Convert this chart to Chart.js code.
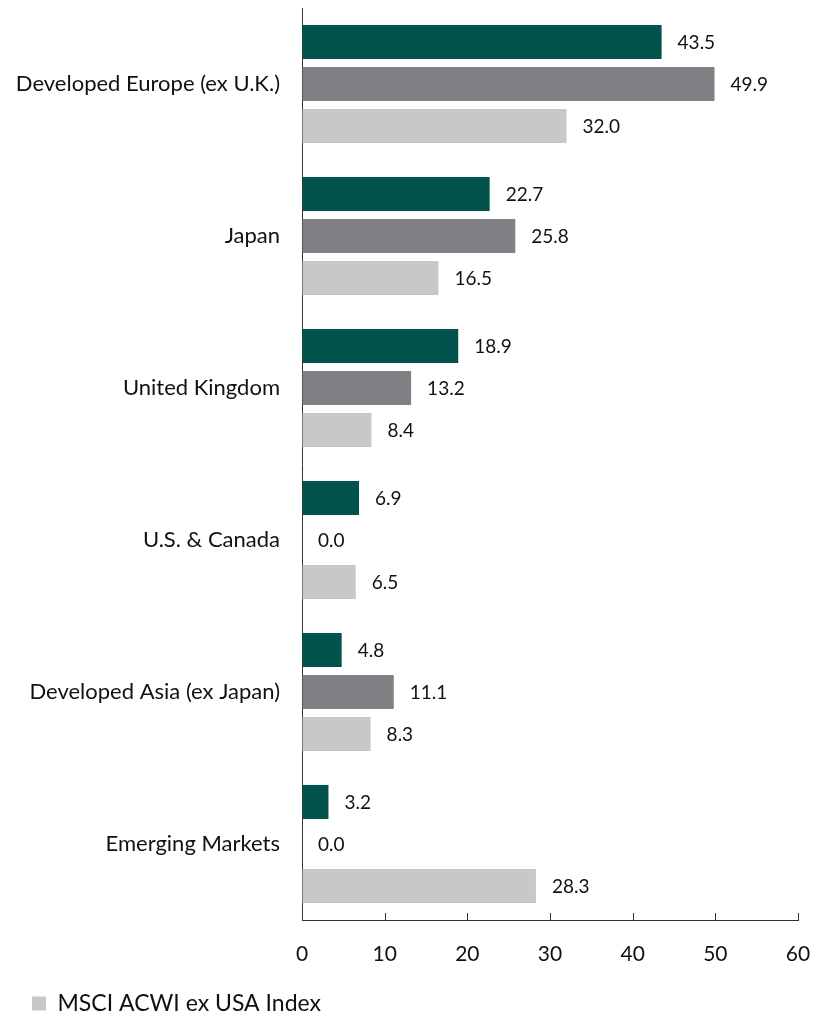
<!DOCTYPE html>
<html>
<head>
<meta charset="utf-8">
<script src="https://cdn.jsdelivr.net/npm/chart.js@4.4.0/dist/chart.umd.min.js"></script>
<style>
html,body{margin:0;padding:0;background:#fff;}
#wrap{width:824px;height:1020px;position:relative;}
</style>
</head>
<body>
<div id="wrap"><canvas id="c" width="824" height="1020"></canvas></div>
<script>
const categories = ["Developed Europe (ex U.K.)", "Japan", "United Kingdom", "U.S. & Canada", "Developed Asia (ex Japan)", "Emerging Markets"];
const seriesNames = ["Portfolio", "Model Portfolio", "MSCI ACWI ex USA Index"];
const seriesA = [43.5, 22.7, 18.9, 6.9, 4.8, 3.2];
const seriesB = [49.9, 25.8, 13.2, 0.0, 11.1, 0.0];
const seriesC = [32.0, 16.5, 8.4, 6.5, 8.3, 28.3];
const xTicks = [0, 10, 20, 30, 40, 50, 60];
const colors = ["#03534D", "#807F83", "#C9C8C9"];

const FONT = "Lato, 'Liberation Sans', sans-serif";

const valueLabels = {
  id: 'valueLabels',
  afterDatasetsDraw(chart) {
    const ctx = chart.ctx;
    ctx.save();
    ctx.font = "19px " + FONT;
    ctx.fillStyle = "#111";
    ctx.textAlign = "left";
    ctx.textBaseline = "middle";
    chart.data.datasets.forEach((ds, i) => {
      const meta = chart.getDatasetMeta(i);
      meta.data.forEach((bar, j) => {
        ctx.fillText(ds.data[j].toFixed(1), bar.x + 16, bar.y + 1);
      });
    });
    ctx.restore();
  }
};

const upTicks = {
  id: 'upTicks',
  afterDraw(chart) {
    const xs = chart.scales.x;
    const ctx = chart.ctx;
    const y = chart.chartArea.bottom;
    ctx.save();
    ctx.strokeStyle = "#333";
    ctx.lineWidth = 1;
    xs.ticks.forEach(t => {
      const x = Math.round(xs.getPixelForValue(t.value)) + 0.5;
      ctx.beginPath();
      ctx.moveTo(x, y);
      ctx.lineTo(x, y - 7);
      ctx.stroke();
    });
    ctx.restore();
  }
};

const legendShift = {
  id: 'legendShift',
  beforeDraw(chart) {
    if (chart.legend) { chart.legend.left = 28; }
  }
};

new Chart(document.getElementById('c'), {
  type: 'bar',
  data: {
    labels: categories,
    datasets: [seriesA, seriesB, seriesC].map((d, i) => ({
      label: seriesNames[i],
      data: d,
      backgroundColor: colors[i],
      borderWidth: 0,
      categoryPercentage: 0.83,
      barPercentage: 0.81
    }))
  },
  options: {
    indexAxis: 'y',
    responsive: false,
    animation: false,
    devicePixelRatio: 1,
    layout: { padding: { top: 8, right: 26, left: 0, bottom: 0 } },
    scales: {
      x: {
        min: 0, max: 60,
        afterBuildTicks(scale) { scale.ticks = xTicks.map(v => ({ value: v })); },
        grid: { display: true, drawOnChartArea: false, drawTicks: false },
        border: { display: true, color: "#333", width: 1 },
        ticks: { font: { family: FONT, size: 21 }, color: "#111", padding: 22 },
        afterFit(scale) { scale.height = 68; scale.paddingRight = 0; scale.paddingLeft = 0; }
      },
      y: {
        grid: { display: true, drawOnChartArea: false, drawTicks: true, tickLength: 22, tickColor: 'rgba(0,0,0,0)' },
        border: { display: true, color: "#333", width: 1 },
        ticks: { font: { family: FONT, size: 22, lineHeight: 0.7 }, color: "#111", padding: 0 },
        afterFit(scale) { scale.width = 302; }
      }
    },
    plugins: {
      legend: {
        position: 'bottom',
        align: 'start',
        maxHeight: 32,
        labels: {
          filter: (item) => item.datasetIndex === 2,
          boxWidth: 14, boxHeight: 14,
          font: { family: FONT, size: 23, lineHeight: 1.0 },
          color: "#111",
          padding: 4
        }
      },
      tooltip: { enabled: false }
    }
  },
  plugins: [valueLabels, upTicks, legendShift]
});
</script>
</body>
</html>
